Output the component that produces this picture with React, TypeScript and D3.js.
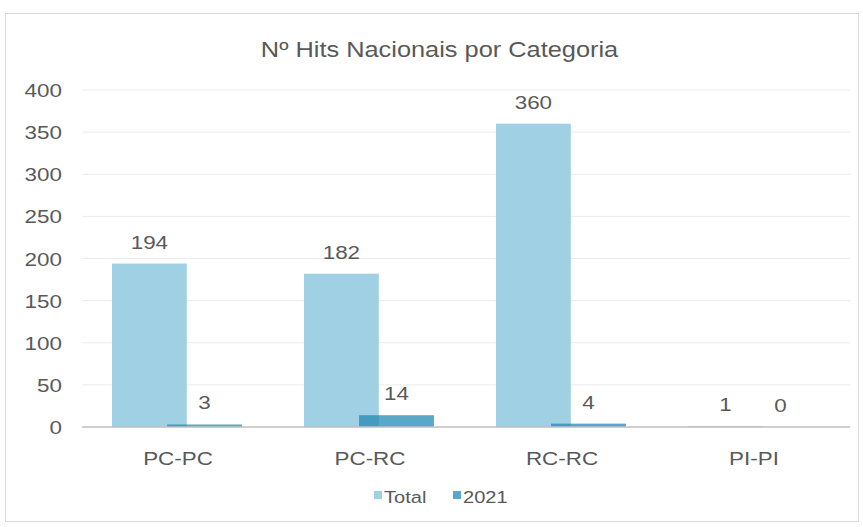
import React from 'react'
import * as d3 from 'd3'

const categories = ['PC-PC', 'PC-RC', 'RC-RC', 'PI-PI']
const totalValues = [194, 182, 360, 1]
const values2021 = [3, 14, 4, 0]
const yTicks = [0, 50, 100, 150, 200, 250, 300, 350, 400]
const seriesNames = ['Total', '2021']

const W = 863
const H = 527
const margin = { top: 90, right: 13, bottom: 100, left: 82 }
const FONT = '"Liberation Sans", Arial, sans-serif'
const TEXT = '#595959'
const STRETCH = 1.18
const colTotal = '#a0d0e4'
const col2021 = '#238bb6'

// text squeezed wide to match the stretched screenshot
const T = ({ x, y, size, anchor = 'middle', children }: any) => (
	<text
		transform={`translate(${x},${y}) scale(${STRETCH},1)`}
		fontSize={size}
		fontFamily={FONT}
		fill={TEXT}
		textAnchor={anchor}
	>
		{children}
	</text>
)

export default function App() {
	const x = d3
		.scaleBand()
		.domain(categories)
		.range([margin.left, W - margin.right])
	const y = d3
		.scaleLinear()
		.domain([0, 400])
		.range([H - margin.bottom, margin.top])

	const bw = x.bandwidth()
	const barW = bw * 0.39
	const offTotal = bw * 0.156
	const off2021 = offTotal + bw * 0.287

	return (
		<svg
			width={W}
			height={H}
			style={{ position: 'absolute', left: 0, top: 0, background: '#fff' }}
		>
			<rect x={5.5} y={13.5} width={853} height={508} fill="#fff" stroke="#d9d9d9" />
			<T x={W / 2 + 8} y={57} size={21.5}>
				Nº Hits Nacionais por Categoria
			</T>

			{yTicks.map((t) => (
				<g key={t}>
					{t > 0 && (
						<line
							x1={margin.left}
							x2={x.range()[1]}
							y1={y(t)}
							y2={y(t)}
							stroke="#ececec"
						/>
					)}
					<T x={62} y={y(t) + 7} size={19} anchor="end">
						{t}
					</T>
				</g>
			))}

			{categories.map((c, i) => {
				const x0 = x(c)!
				return (
					<g key={c}>
						<rect
							x={x0 + offTotal}
							y={y(totalValues[i])}
							width={barW}
							height={y(0) - y(totalValues[i])}
							fill={colTotal}
						/>
						<rect
							x={x0 + off2021}
							y={y(values2021[i])}
							width={barW}
							height={y(0) - y(values2021[i])}
							fill={col2021}
							fillOpacity={0.75}
						/>
						<T x={x0 + offTotal + barW / 2} y={y(totalValues[i]) - 15} size={19}>
							{totalValues[i]}
						</T>
						<T x={x0 + off2021 + barW / 2} y={y(values2021[i]) - 15} size={19}>
							{values2021[i]}
						</T>
						<T x={x0 + bw / 2} y={y(0) + 38} size={19}>
							{c}
						</T>
					</g>
				)
			})}

			<line
				x1={margin.left}
				x2={x.range()[1]}
				y1={y(0)}
				y2={y(0)}
				stroke="#bfbfbf"
				strokeWidth={1.5}
			/>

			{seriesNames.map((s, i) => {
				const lx = i === 0 ? 374 : 453
				return (
					<g key={s}>
						<rect
							x={lx}
							y={491}
							width={8}
							height={8}
							fill={i === 0 ? colTotal : col2021}
							fillOpacity={i === 0 ? 1 : 0.75}
						/>
						<T x={lx + 10} y={503} size={17} anchor="start">
							{s}
						</T>
					</g>
				)
			})}
		</svg>
	)
}
